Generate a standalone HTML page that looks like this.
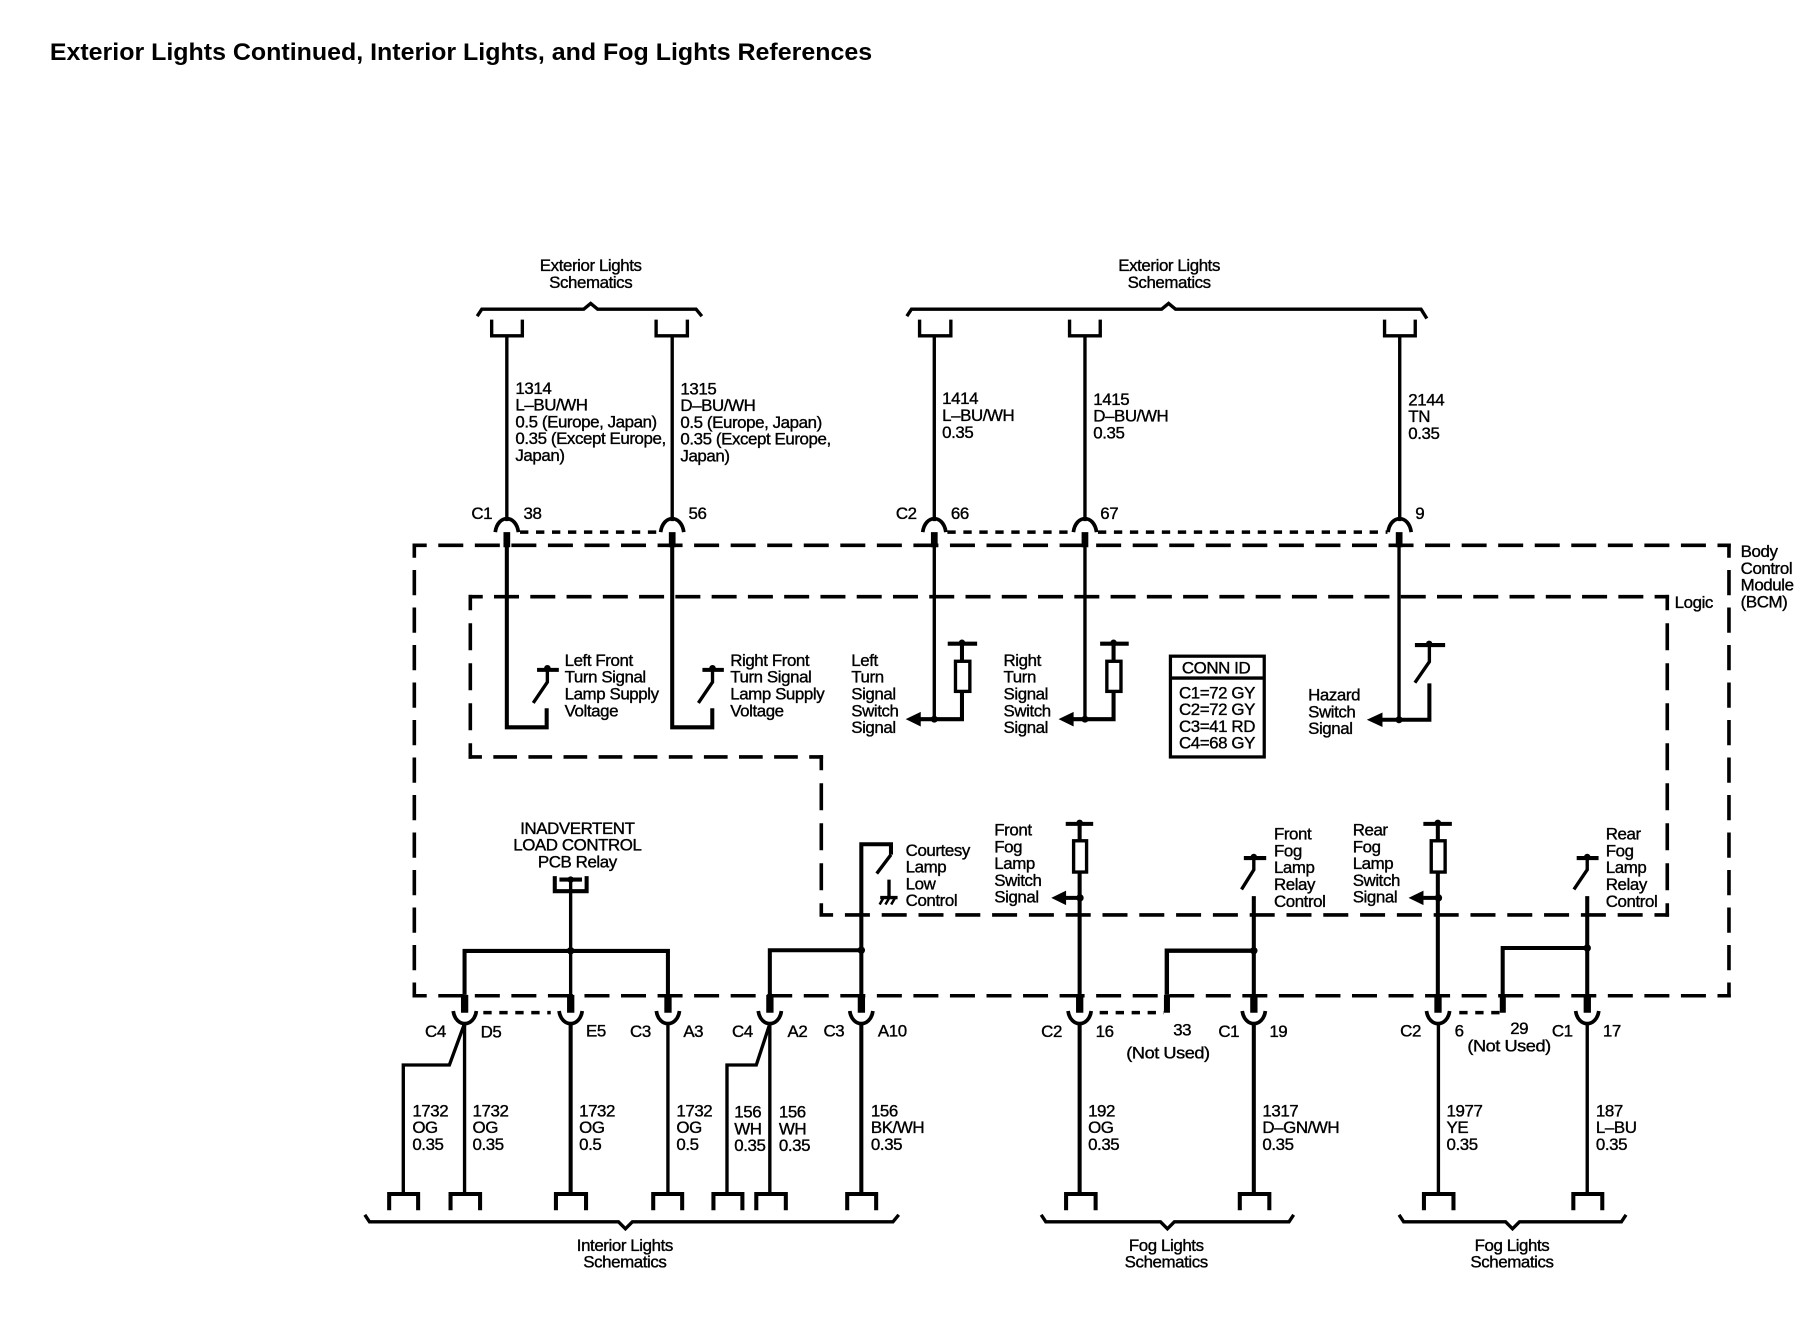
<!DOCTYPE html>
<html><head><meta charset="utf-8"><style>
html,body{margin:0;padding:0;background:#fff}
svg{display:block}
text{font-family:"Liberation Sans",sans-serif;font-size:14.6px;letter-spacing:-.36px;fill:#000;stroke:#000;stroke-width:.32}
.c{text-anchor:middle}
.w,.k,.m,.a{fill:none;stroke:#000}
.w{stroke-width:2.9}
.k{stroke-width:3.5}
.a{stroke-width:3.2}
.m{stroke-width:3;stroke-dasharray:7.2 6.6}
.dh{stroke:#000;stroke-width:3.6}
</style></head><body>
<svg xmlns="http://www.w3.org/2000/svg" width="1816" height="1328" viewBox="0 0 1568 1146.7">
<text x="43" y="52" textLength="710" lengthAdjust="spacingAndGlyphs" style="font-size:20.4px;font-weight:bold;letter-spacing:0;stroke-width:0">Exterior Lights Continued, Interior Lights, and Fog Lights References</text>

<!-- dashed boxes (coordinates in output pixels) -->
<g transform="scale(.86344)" class="dh">
<line x1="412.5" y1="545.3" x2="1730.8" y2="545.3" stroke-dasharray="25 11.55" stroke-dashoffset="10.8"/>
<line x1="412.5" y1="995.8" x2="1730.8" y2="995.8" stroke-dasharray="25 11.55" stroke-dashoffset="10.8"/>
<line x1="414.3" y1="543.5" x2="414.3" y2="997.6" stroke-dasharray="25.3 12.2" stroke-dashoffset="11"/>
<line x1="1729" y1="543.5" x2="1729" y2="997.6" stroke-dasharray="25.3 12.2" stroke-dashoffset="11"/>
<line x1="468.5" y1="596.7" x2="1669.1" y2="596.7" stroke-dasharray="25 11.27" stroke-dashoffset="10.77"/>
<line x1="470.3" y1="594.9" x2="470.3" y2="758.8" stroke-dasharray="27 13" stroke-dashoffset="11.6"/>
<line x1="1667.3" y1="594.9" x2="1667.3" y2="916.8" stroke-dasharray="27 13" stroke-dashoffset="11.6"/>
<line x1="468.5" y1="757" x2="823.1" y2="757" stroke-dasharray="23.7 11.4" stroke-dashoffset="10.3"/>
<line x1="821.3" y1="755.2" x2="821.3" y2="915.8" stroke-dasharray="27 13" stroke-dashoffset="11.9"/>
<line x1="819.5" y1="915" x2="1669.1" y2="915" stroke-dasharray="25 11.8" stroke-dashoffset="11.4"/>
</g>

<!-- top brackets -->
<path class="w" d="M412 273L416 267H504L510 262L516 267H601L606 273"/>
<path class="w" d="M783 273L787 267H1003L1009 262L1015 267H1227L1232 275"/>
<!-- top connectors -->
<path class="w" d="M424.5 276V290H451V276M566.5 276V290H593.5V276M794 276V290H821V276M923.5 276V290H950V276M1195.5 276V290H1222V276"/>
<!-- top wires -->
<path class="w" d="M437.6 290V450M580.4 290V450M806.7 290V450M936.8 290V450M1208.6 290V450"/>
<!-- top terminals -->
<path class="a" d="M427.6 459.5C429.6 444 445.6 444 447.6 459.5"/>
<path class="a" d="M570.4 459.5C572.4 444 588.4 444 590.4 459.5"/>
<path class="a" d="M796.7 459.5C798.7 444 814.7 444 816.7 459.5"/>
<path class="a" d="M926.8 459.5C928.8 444 944.8 444 946.8 459.5"/>
<path class="a" d="M1198.5 459.5C1200.5 444 1216.5 444 1218.5 459.5"/>
<path class="m" d="M449 459.5H569M818 459.5H926M948 459.5H1198"/>
<path d="M434.7 459.5h5.8v13h-5.8zM577.5 459.5h5.8v13h-5.8zM803.8 459.5h5.8v13h-5.8zM933.9 459.5h5.8v13h-5.8zM1205.2 459.5h5.8v13h-5.8z"/>

<!-- inner top wires -->
<path class="k" d="M437.6 470V628H472V611.6"/>
<path class="k" d="M580.4 470V628H615V611.6"/>
<path class="w" d="M806.7 470V621M936.8 470V621M1208 470V621"/>

<!-- lamp supply switches -->
<path class="k" d="M463.7 578.4H482.5M606.5 578.4H625"/>
<path class="w" d="M472.6 578V589L460.4 607M615.2 578V589L603 607"/>
<circle cx="472.6" cy="577" r="2.8"/><circle cx="615.2" cy="577" r="2.8"/>

<!-- left/right turn switch -->
<path class="k" d="M818.3 555.8H843.7M949.9 555.8H974.6"/>
<circle cx="830.6" cy="555" r="2.8"/><circle cx="961.5" cy="555" r="2.8"/>
<path class="k" d="M830.6 556V571M830.6 597V621H794M961.5 556V571M961.5 597V621H926"/>
<rect class="w" x="825" y="571" width="12.4" height="26"/>
<rect class="w" x="955.7" y="571" width="12.2" height="26"/>
<path d="M782 621L795 614.7V627.3ZM914 621L927 614.7V627.3ZM1180.2 621.5L1193.7 615.2V627.8Z"/>
<circle cx="806.7" cy="621" r="3"/><circle cx="936.8" cy="621" r="3"/><circle cx="1208" cy="621.5" r="3"/>

<!-- hazard -->
<path class="k" d="M1221.7 557H1247.8M1234.2 590.1V621.5H1192"/>
<circle cx="1234" cy="556" r="2.8"/>
<path class="w" d="M1234.2 557V571.4L1221.7 589.5"/>

<!-- CONN ID -->
<rect x="1010.6" y="566.6" width="81" height="87" fill="none" stroke="#000" stroke-width="2.8"/>
<path class="w" d="M1010 585.5H1092"/>
<text class="c" x="1050" y="581.5">CONN ID</text>
<text x="1018" y="603">C1=72 GY</text>
<text x="1018" y="617.5">C2=72 GY</text>
<text x="1018" y="632">C3=41 RD</text>
<text x="1018" y="646.5">C4=68 GY</text>

<!-- relay -->
<path class="k" d="M479 756.5V769.5H506.5V756.5M483 759.5H502.5"/>
<circle cx="492.7" cy="759.5" r="2.8"/>
<path class="w" d="M492.7 759V872"/>
<path class="k" d="M401.1 859V821.1H576.7V859"/>
<circle cx="492.7" cy="821" r="3.2"/>

<!-- courtesy -->
<path class="k" d="M743.7 859V729H769.3V738"/>
<path class="w" d="M769.3 738L757 754.3M767.6 759.5V775"/>
<path class="w" d="M760 775H775"/>
<path class="w" style="stroke-width:2.2" d="M763 775L759.5 781M768 775L764.5 781M773 775L769.5 781"/>
<path class="k" d="M664.7 859V820.5H743.7"/>
<circle cx="743.7" cy="820.5" r="3.2"/>

<!-- front fog -->
<path class="k" d="M920.2 711.4H943.9M1229 711.4H1253.6"/>
<circle cx="932.2" cy="710.5" r="2.8"/><circle cx="1241.5" cy="710.5" r="2.8"/>
<path class="k" d="M932.2 711V726M932.2 753V859M1241.5 711V726M1241.5 753V859"/>
<rect class="w" x="927" y="726" width="11.2" height="27"/>
<rect class="w" x="1235.8" y="726" width="12" height="27"/>
<path class="k" d="M920 775.3H932M1229 775.3H1242"/>
<path d="M907.7 775.3L920.5 769V781.6ZM1216.2 775.3L1229.1 769V781.6Z"/>
<circle cx="932.5" cy="775.3" r="3.2"/><circle cx="1242" cy="775.3" r="3.2"/>

<!-- relay control -->
<path class="k" d="M1074 740.9H1093.3M1361.4 740.9H1380.3"/>
<circle cx="1082.6" cy="740" r="2.8"/><circle cx="1370.5" cy="740" r="2.8"/>
<path class="w" d="M1082.6 741V751L1072 768M1370.5 741V751L1359 768"/>
<path class="k" d="M1082.6 773.8V859M1370.5 773.8V859"/>
<path class="k" d="M1007.5 859V820.9H1082.6" style="stroke-width:3.8"/>
<path class="k" d="M1297.5 859V818.6H1370.5"/>
<circle cx="1082.6" cy="820.9" r="3.2"/><circle cx="1370.5" cy="818.6" r="3.2"/>

<!-- bottom thick stubs -->
<path d="M398 859h6.3v15.5h-6.3zM489.6 859h6.3v15.5h-6.3zM573.6 859h6.3v15.5h-6.3zM661.6 859h6.3v15.5h-6.3zM740.6 859h6.3v15.5h-6.3zM929.1 859h6.3v15.5h-6.3zM1005 859h5.2v15.5h-5.2zM1079.5 859h6.3v15.5h-6.3zM1238.5 859h6.3v15.5h-6.3zM1295 859h5.2v15.5h-5.2zM1367.4 859h6.3v15.5h-6.3z"/>

<!-- bottom terminals -->
<path class="a" d="M391.3 873C393.3 887.5 409.3 887.5 411.3 873"/>
<path class="a" d="M482.7 873C484.7 887.5 500.7 887.5 502.7 873"/>
<path class="a" d="M566.7 873C568.7 887.5 584.7 887.5 586.7 873"/>
<path class="a" d="M654.7 873C656.7 887.5 672.7 887.5 674.7 873"/>
<path class="a" d="M733.7 873C735.7 887.5 751.7 887.5 753.7 873"/>
<path class="a" d="M922.2 873C924.2 887.5 940.2 887.5 942.2 873"/>
<path class="a" d="M1072.6 873C1074.6 887.5 1090.6 887.5 1092.6 873"/>
<path class="a" d="M1231.7 873C1233.7 887.5 1249.7 887.5 1251.7 873"/>
<path class="a" d="M1360.5 873C1362.5 887.5 1378.5 887.5 1380.5 873"/>
<path class="m" d="M417.3 874.4H475.5M949.5 874.4H1005M1260 874.4H1295"/>

<!-- bottom wires -->
<path class="w" d="M401.1 884V1031M576.7 884V1031M664.7 884V1031M1242 884V1031M1370.5 884V1031"/>
<path class="k" d="M492.7 884V1031M743.7 884V1031M932.2 884V1031M1082.6 884V1031"/>
<path class="w" d="M348.2 1031V919.6H388L401 884M627.7 1031V919.6H653L664.7 884"/>

<!-- bottom connectors -->
<path class="k" d="M336 1045V1031H361V1045M389 1045V1031H414.5V1045M480 1045V1031H506V1045M564 1045V1031H589V1045M616 1045V1031H641V1045M653 1045V1031H678.5V1045M731.5 1045V1031H756.5V1045M920.5 1045V1031H946V1045M1070.5 1045V1031H1096V1045M1229.5 1045V1031H1255V1045M1358.5 1045V1031H1383.5V1045"/>

<!-- bottom brackets -->
<path class="w" d="M315 1049L319 1055H534L540 1061L546 1055H771L776 1049"/>
<path class="w" d="M899 1049L903 1055H1002L1008 1061L1014 1055H1113L1117 1049"/>
<path class="w" d="M1208 1049L1212 1055H1300L1306 1061L1312 1055H1400L1404 1049"/>

<!-- labels -->
<text class="c" x="510" y="234">Exterior Lights</text>
<text class="c" x="510" y="248.5">Schematics</text>
<text class="c" x="1009.5" y="234">Exterior Lights</text>
<text class="c" x="1009.5" y="248.5">Schematics</text>

<text x="445" y="340">1314<tspan x="445" dy="14.5">L–BU/WH</tspan><tspan x="445" dy="14.5">0.5 (Europe, Japan)</tspan><tspan x="445" dy="14.5">0.35 (Except Europe,</tspan><tspan x="445" dy="14.5">Japan)</tspan></text>
<text x="587.5" y="340.5">1315<tspan x="587.5" dy="14.5">D–BU/WH</tspan><tspan x="587.5" dy="14.5">0.5 (Europe, Japan)</tspan><tspan x="587.5" dy="14.5">0.35 (Except Europe,</tspan><tspan x="587.5" dy="14.5">Japan)</tspan></text>
<text x="813.5" y="349">1414<tspan x="813.5" dy="14.5">L–BU/WH</tspan><tspan x="813.5" dy="14.5">0.35</tspan></text>
<text x="944" y="349.5">1415<tspan x="944" dy="14.5">D–BU/WH</tspan><tspan x="944" dy="14.5">0.35</tspan></text>
<text x="1216" y="350">2144<tspan x="1216" dy="14.5">TN</tspan><tspan x="1216" dy="14.5">0.35</tspan></text>

<text x="407" y="448">C1</text><text x="452" y="448">38</text><text x="594.5" y="448">56</text>
<text x="773.5" y="448">C2</text><text x="821" y="448">66</text><text x="950" y="448">67</text><text x="1222" y="448">9</text>

<text x="487.5" y="575">Left Front<tspan x="487.5" dy="14.5">Turn Signal</tspan><tspan x="487.5" dy="14.5">Lamp Supply</tspan><tspan x="487.5" dy="14.5">Voltage</tspan></text>
<text x="630.5" y="575">Right Front<tspan x="630.5" dy="14.5">Turn Signal</tspan><tspan x="630.5" dy="14.5">Lamp Supply</tspan><tspan x="630.5" dy="14.5">Voltage</tspan></text>
<text x="735" y="575">Left<tspan x="735" dy="14.5">Turn</tspan><tspan x="735" dy="14.5">Signal</tspan><tspan x="735" dy="14.5">Switch</tspan><tspan x="735" dy="14.5">Signal</tspan></text>
<text x="866.5" y="575">Right<tspan x="866.5" dy="14.5">Turn</tspan><tspan x="866.5" dy="14.5">Signal</tspan><tspan x="866.5" dy="14.5">Switch</tspan><tspan x="866.5" dy="14.5">Signal</tspan></text>
<text x="1129.5" y="605">Hazard<tspan x="1129.5" dy="14.5">Switch</tspan><tspan x="1129.5" dy="14.5">Signal</tspan></text>
<text x="1446" y="525">Logic</text>
<text x="1503" y="481">Body<tspan x="1503" dy="14.5">Control</tspan><tspan x="1503" dy="14.5">Module</tspan><tspan x="1503" dy="14.5">(BCM)</tspan></text>

<text class="c" x="498.5" y="720">INADVERTENT</text>
<text class="c" x="498.5" y="734.5">LOAD CONTROL</text>
<text class="c" x="498.5" y="749">PCB Relay</text>
<text x="782" y="739">Courtesy<tspan x="782" dy="14.5">Lamp</tspan><tspan x="782" dy="14.5">Low</tspan><tspan x="782" dy="14.5">Control</tspan></text>
<text x="858.5" y="721.5">Front<tspan x="858.5" dy="14.5">Fog</tspan><tspan x="858.5" dy="14.5">Lamp</tspan><tspan x="858.5" dy="14.5">Switch</tspan><tspan x="858.5" dy="14.5">Signal</tspan></text>
<text x="1100" y="725">Front<tspan x="1100" dy="14.5">Fog</tspan><tspan x="1100" dy="14.5">Lamp</tspan><tspan x="1100" dy="14.5">Relay</tspan><tspan x="1100" dy="14.5">Control</tspan></text>
<text x="1168" y="721.5">Rear<tspan x="1168" dy="14.5">Fog</tspan><tspan x="1168" dy="14.5">Lamp</tspan><tspan x="1168" dy="14.5">Switch</tspan><tspan x="1168" dy="14.5">Signal</tspan></text>
<text x="1386.5" y="725">Rear<tspan x="1386.5" dy="14.5">Fog</tspan><tspan x="1386.5" dy="14.5">Lamp</tspan><tspan x="1386.5" dy="14.5">Relay</tspan><tspan x="1386.5" dy="14.5">Control</tspan></text>

<text x="367" y="895.5">C4</text><text x="415" y="896">D5</text><text x="506" y="895">E5</text><text x="544" y="895.5">C3</text><text x="590" y="895.5">A3</text>
<text x="632" y="895.5">C4</text><text x="680" y="895.5">A2</text><text x="711" y="895">C3</text><text x="758" y="895">A10</text>
<text x="899" y="895.5">C2</text><text x="946" y="895.5">16</text><text x="1013" y="894">33</text><text x="972.5" y="914" textLength="72" lengthAdjust="spacingAndGlyphs">(Not Used)</text>
<text x="1052" y="895.5">C1</text><text x="1096" y="895.5">19</text><text x="1209" y="895">C2</text><text x="1256" y="895">6</text>
<text x="1304" y="893">29</text><text x="1267" y="908" textLength="72" lengthAdjust="spacingAndGlyphs">(Not Used)</text><text x="1340" y="895">C1</text><text x="1384" y="895">17</text>

<text x="356" y="964">1732<tspan x="356" dy="14.5">OG</tspan><tspan x="356" dy="14.5">0.35</tspan></text>
<text x="408" y="964">1732<tspan x="408" dy="14.5">OG</tspan><tspan x="408" dy="14.5">0.35</tspan></text>
<text x="500" y="964">1732<tspan x="500" dy="14.5">OG</tspan><tspan x="500" dy="14.5">0.5</tspan></text>
<text x="584" y="964">1732<tspan x="584" dy="14.5">OG</tspan><tspan x="584" dy="14.5">0.5</tspan></text>
<text x="634" y="965">156<tspan x="634" dy="14.5">WH</tspan><tspan x="634" dy="14.5">0.35</tspan></text>
<text x="672.5" y="965">156<tspan x="672.5" dy="14.5">WH</tspan><tspan x="672.5" dy="14.5">0.35</tspan></text>
<text x="752" y="964">156<tspan x="752" dy="14.5">BK/WH</tspan><tspan x="752" dy="14.5">0.35</tspan></text>
<text x="939.5" y="964">192<tspan x="939.5" dy="14.5">OG</tspan><tspan x="939.5" dy="14.5">0.35</tspan></text>
<text x="1090" y="964">1317<tspan x="1090" dy="14.5">D–GN/WH</tspan><tspan x="1090" dy="14.5">0.35</tspan></text>
<text x="1249" y="964">1977<tspan x="1249" dy="14.5">YE</tspan><tspan x="1249" dy="14.5">0.35</tspan></text>
<text x="1378" y="964">187<tspan x="1378" dy="14.5">L–BU</tspan><tspan x="1378" dy="14.5">0.35</tspan></text>

<text class="c" x="539.5" y="1080">Interior Lights</text>
<text class="c" x="539.5" y="1094.5">Schematics</text>
<text class="c" x="1007" y="1080">Fog Lights</text>
<text class="c" x="1007" y="1094.5">Schematics</text>
<text class="c" x="1305.5" y="1080">Fog Lights</text>
<text class="c" x="1305.5" y="1094.5">Schematics</text>
</svg>
</body></html>
